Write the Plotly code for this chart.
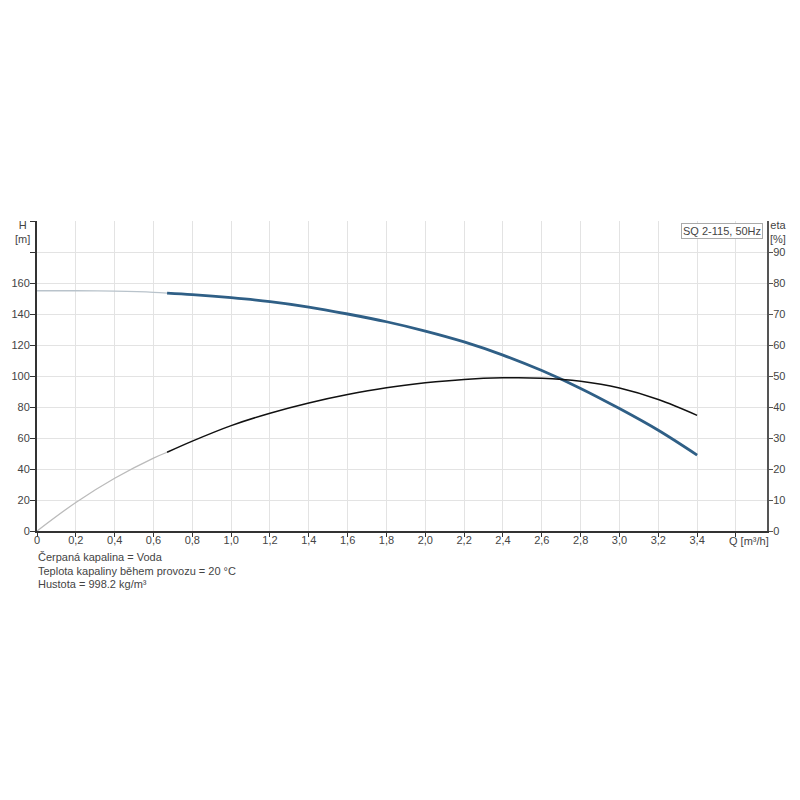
import plotly.graph_objects as go

# Data
q = [0, 0.2, 0.4, 0.6, 0.67, 0.8, 1.0, 1.2, 1.4, 1.6, 1.8, 2.0, 2.2, 2.4, 2.6, 2.8, 3.0, 3.2, 3.4]
head = [155, 155, 154.7, 154, 153.5, 152.5, 150.5, 148, 144.5, 140, 135, 129, 122, 113.5, 103.5, 92, 79, 65, 49]
eta = [0, 9.2, 17, 23.5, 25.4, 29.0, 34, 38, 41.3, 44, 46.2, 47.8, 48.9, 49.4, 49.3, 48.3, 46.1, 42.4, 37.3]
split = 4  # index where the operating range begins (Q = 0.67)

x_ticks = [0, 0.2, 0.4, 0.6, 0.8, 1.0, 1.2, 1.4, 1.6, 1.8, 2.0, 2.2, 2.4, 2.6, 2.8, 3.0, 3.2, 3.4]
x_ticktext = ["0", "0,2", "0,4", "0,6", "0,8", "1,0", "1,2", "1,4", "1,6", "1,8", "2,0",
              "2,2", "2,4", "2,6", "2,8", "3,0", "3,2", "3,4"]
h_ticks = [0, 20, 40, 60, 80, 100, 120, 140, 160]
eta_ticks = [0, 10, 20, 30, 40, 50, 60, 70, 80, 90]
info_lines = ["Čerpaná kapalina = Voda",
              "Teplota kapaliny během provozu = 20 °C",
              "Hustota = 998.2 kg/m³"]
legend_text = "SQ 2-115, 50Hz"

FONT = "Arial, Liberation Sans, sans-serif"
TXT = "#444"
fig = go.Figure()

# Light (outside range) parts
fig.add_trace(go.Scatter(x=q[:split + 1], y=head[:split + 1], mode="lines",
                         line=dict(color="#b9c3cb", width=1.3, shape="spline"),
                         hoverinfo="skip", showlegend=False))
fig.add_trace(go.Scatter(x=q[:split + 1], y=eta[:split + 1], mode="lines", yaxis="y2",
                         line=dict(color="#bbbbbb", width=1.3, shape="spline"),
                         hoverinfo="skip", showlegend=False))
# Operating range parts
fig.add_trace(go.Scatter(x=q[split:], y=eta[split:], mode="lines", yaxis="y2",
                         line=dict(color="#111111", width=1.5, shape="spline"),
                         showlegend=False))
fig.add_trace(go.Scatter(x=q[split:], y=head[split:], mode="lines",
                         line=dict(color="#2f5f86", width=2.8, shape="spline"),
                         showlegend=False))

grid = "#e3e3e3"
fig.update_layout(
    width=800, height=800,
    paper_bgcolor="white", plot_bgcolor="white",
    margin=dict(l=29, r=41, t=213, b=277, autoexpand=False),
    font=dict(family=FONT, size=11, color=TXT),
    showlegend=False,
    xaxis=dict(range=[0, 3.76], tickvals=x_ticks + [3.6], ticktext=x_ticktext + [""],
               showgrid=True, gridcolor=grid, gridwidth=1, automargin=False,
               showline=True, linecolor="#333", linewidth=2,
               ticks="outside", ticklen=4, tickcolor="#333", zeroline=False,
               ticklabelstandoff=-6,
               tickfont=dict(size=11, color=TXT)),
    yaxis=dict(range=[0, 200], tickvals=h_ticks + [180, 200], ticktext=[str(v) for v in h_ticks] + ["", ""],
               showgrid=True, gridcolor=grid, gridwidth=1, automargin=False,
               showline=True, linecolor="#333", linewidth=2,
               ticks="outside", ticklen=5, tickcolor="#333", zeroline=False,
               ticklabelstandoff=-2,
               tickfont=dict(size=11, color=TXT)),
    yaxis2=dict(range=[0, 100], tickvals=eta_ticks, overlaying="y", side="right",
                showgrid=False, showline=True, linecolor="#555", linewidth=2, automargin=False,
                ticks="outside", ticklen=4, tickcolor="#555", zeroline=False,
                ticklabelstandoff=-2,
                tickfont=dict(size=11, color=TXT)),
)

ann = []
ann.append(dict(text="H<br>[m]", xref="paper", yref="paper", x=0, y=1.0, xanchor="center",
                yanchor="bottom", showarrow=False, font=dict(size=11, color=TXT), align="center",
                xshift=-15, yshift=-26))
ann.append(dict(text="eta<br>[%]", xref="paper", yref="paper", x=1.0, y=1.0, xanchor="center",
                yanchor="bottom", showarrow=False, font=dict(size=11, color=TXT), align="center",
                xshift=11, yshift=-26))
ann.append(dict(text="Q [m³/h]", xref="x", yref="paper", x=3.6, y=0, xanchor="left",
                yanchor="middle", showarrow=False, font=dict(size=11, color=TXT), xshift=-9, yshift=-10))
ann.append(dict(text=legend_text, xref="paper", yref="paper", x=1.0, y=1.0, xanchor="right",
                yanchor="top", showarrow=False, font=dict(size=11, color=TXT),
                bordercolor="#aaa", borderwidth=1, borderpad=1, bgcolor="white",
                xshift=-4, yshift=-2))
for i, line in enumerate(info_lines):
    ann.append(dict(text=line, xref="paper", yref="paper", x=0, y=0, xanchor="left", yanchor="middle",
                    showarrow=False, font=dict(size=11, color=TXT), xshift=-1, yshift=-26 - 13.5 * i))
fig.update_layout(annotations=ann)

fig.write_html("out.html")
